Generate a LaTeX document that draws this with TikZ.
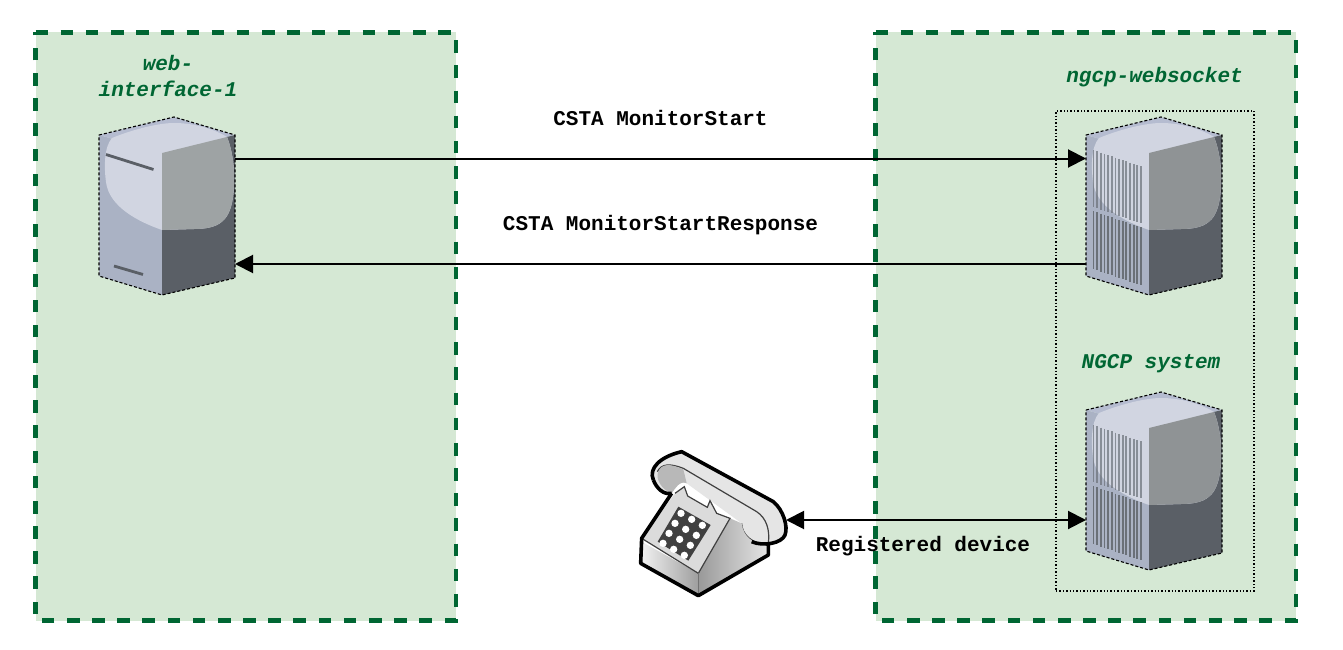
\documentclass[tikz,border=0pt]{standalone}
\usepackage{fontspec}
\setmonofont{Liberation Mono}
\usetikzlibrary{arrows.meta}
\definecolor{panelfill}{HTML}{D5E8D4}
\definecolor{paneledge}{HTML}{006633}
\definecolor{sideface}{HTML}{AAB2C4}
\definecolor{topface}{HTML}{B5BCD0}
\definecolor{darkface}{HTML}{5A5F66}
\definecolor{glossface}{HTML}{D1D5E1}
\definecolor{glossweb}{HTML}{9EA3A4}
\definecolor{glossngcp}{HTML}{8F9395}
\definecolor{ventbar}{HTML}{6A7078}
\tikzset{
    panel/.style={fill=panelfill, minimum width=420.2pt, minimum height=588pt, inner sep=0pt, outer sep=0pt},
    panelline/.style={draw=paneledge, line width=4.3pt, dash pattern=on 12.6pt off 12.57pt},
    zonebox/.style={draw, line width=1.4pt, dotted, minimum width=198pt, minimum height=480pt, inner sep=0pt},
    towerbox/.style={minimum width=136pt, minimum height=178pt, inner sep=0pt, outer sep=0pt},
    phonebox/.style={minimum width=146pt, minimum height=156pt, inner sep=0pt, outer sep=0pt},
    zonelabel/.style={text=paneledge, font=\fontsize{21}{26}\selectfont\ttfamily\bfseries\itshape, align=center},
    msglabel/.style={font=\fontsize{21}{26}\selectfont\ttfamily\bfseries},
    flow/.style={line width=2pt, -{Triangle[length=18pt, width=18pt]}},
    flowboth/.style={line width=2pt, {Triangle[length=18pt, width=18pt]}-{Triangle[length=18pt, width=18pt]}},
    pics/tower/.style={code={
        \fill[sideface] (0,18) -- (63,36) -- (63,178) -- (0,159) -- cycle;
        \fill[topface] (0,18) -- (75,0) -- (136,18) -- (63,36) -- cycle;
        \fill[darkface] (63,36) -- (136,18) -- (136,161) -- (63,178) -- cycle;
        \fill[glossface] (13,21) .. controls (35,12) and (60,6) .. (75,6)
            .. controls (95,6) and (115,12) .. (128,20)
            .. controls (134,35) and (136,55) .. (135,70)
            .. controls (133,100) and (125,112) .. (95,112)
            -- (63,113) .. controls (40,105) and (10,90) .. (7,65)
            .. controls (5,50) and (5,30) .. (13,21) -- cycle;
        \begin{scope}
            \clip (63,36) -- (136,18) -- (136,161) -- (63,178) -- cycle;
            \fill[#1] (13,21) .. controls (35,12) and (60,6) .. (75,6)
                .. controls (95,6) and (115,12) .. (128,20)
                .. controls (134,35) and (136,55) .. (135,70)
                .. controls (133,100) and (125,112) .. (95,112)
                -- (63,113) -- (63,0) -- cycle;
        \end{scope}
        \draw[line width=1.1pt, densely dashed] (0,18) -- (75,0) -- (136,18) -- (136,161) -- (63,178) -- (0,159) -- cycle;
    }},
    pics/slots/.style={code={
        \draw[line width=2.8pt, darkface] (7,37.5) -- (54.5,52.5);
        \draw[line width=2.8pt, darkface] (15,149) -- (44,157.5);
    }},
    pics/vents/.style={code={
        \foreach \i in {0,...,13} {
            \pgfmathsetmacro{\vx}{7.5+\i*3.65}
            \pgfmathsetmacro{\vy}{33+\i*1.25}
            \draw[line width=1.8pt, ventbar, opacity=0.7] (\vx,\vy) -- (\vx,\vy+57);
            \draw[line width=1.8pt, ventbar] (\vx,\vy+61) -- (\vx,\vy+119);
        }
    }},
}
\begin{document}
\begin{tikzpicture}[x=1pt, y=-1pt]
    \useasboundingbox (0,0) rectangle (1343,650);

    %zones
    \node[panel] (webzone) at (245.6,326.5) {};
    \node[panel] (ngcpzone) at (1085.6,326.5) {};
    \draw[panelline] (webzone.north west) -- (webzone.north east) -- (webzone.south east) -- (webzone.south west) -- cycle;
    \draw[panelline] (ngcpzone.north west) -- (ngcpzone.north east) -- (ngcpzone.south east) -- (ngcpzone.south west) -- cycle;
    \node[zonebox] (ngcpbox) at (1155,351) {};

    %servers
    \pic at (99,117) {tower={glossweb}};
    \pic at (99,117) {slots};
    \pic at (1086,117) {tower={glossngcp}};
    \pic at (1086,117) {vents};
    \pic at (1086,392) {tower={glossngcp}};
    \pic at (1086,392) {vents};
    \node[towerbox] (web) at (167,206) {};
    \node[towerbox] (websocket) at (1154,206) {};
    \node[towerbox] (system) at (1154,481) {};

    %phone
    \begin{scope}[shift={(620,430)}, scale=1/3]
        \fill[white!90!black] (100,150) .. controls (85,115) and (120,80) .. (185,65)
            -- (460,215) .. controls (490,240) and (505,290) .. (495,315)
            .. controls (485,340) and (430,350) .. (395,335)
            .. controls (375,325) and (365,300) .. (365,280) -- (200,160)
            .. controls (180,150) and (165,175) .. (155,190)
            .. controls (130,195) and (110,175) .. (100,150) -- cycle;
        \draw[line width=1.2pt, black!75] (112,125) .. controls (125,100) and (150,100) .. (190,115)
            -- (410,245) .. controls (440,265) and (450,300) .. (445,340);
        \fill[white!72!black] (115,125) .. controls (105,145) and (125,180) .. (155,190)
            .. controls (165,175) and (180,150) .. (200,160) -- (190,118) .. controls (150,100) and (125,100) .. (115,125) -- cycle;
        \draw[line width=1.2pt, black!75] (365,280) .. controls (365,310) and (395,345) .. (445,342);
        % body
        \shade[left color=white!95!black, right color=white!62!black] (65,335) -- (62,400) -- (235,497) -- (235,430) -- cycle;
        \shade[left color=white!60!black, right color=white!90!black] (235,430) -- (235,497) -- (445,375) -- (445,342)
            .. controls (400,345) and (370,320) .. (365,280) -- (330,265) -- cycle;
        \fill[white!86!black] (65,325) -- (165,190) -- (193,170) -- (203,198) -- (262,232) -- (270,212) -- (290,250) -- (330,265) -- (235,430) -- cycle;
        \draw[line width=1.2pt, black!75] (165,190) -- (193,170) -- (203,198) -- (262,232) -- (270,212) -- (290,250) -- (330,265) -- (235,430) -- (65,325);
        \draw[line width=1pt, black!55] (235,430) -- (235,497);
        % keypad
        \fill[black!75] (175,230) -- (272,285) -- (205,392) -- (113,335) -- cycle;
        \foreach \r in {0,...,3} {
            \foreach \c in {0,...,2} {
                \fill[white] ({183+\c*32-\r*18},{250+\c*18+\r*30}) circle [radius=11];
            }
        }
        % outlines
        \draw[line width=3.6pt, line join=round] (100,150) .. controls (85,115) and (120,80) .. (185,65)
            -- (460,215) .. controls (490,240) and (505,290) .. (495,315)
            .. controls (485,340) and (430,350) .. (395,335);
        \draw[line width=3.6pt, line join=round] (100,150) .. controls (110,175) and (130,195) .. (155,190);
        \draw[line width=3.6pt, line join=round] (155,190) -- (65,325) -- (62,400) -- (235,497) -- (445,375) -- (445,342);
    \end{scope}
    \node[phonebox] (phone) at (713,520) {};

    %labels
    \node[zonelabel] (weblabel) at (168,76) {web-\\interface-1};
    \node[zonelabel] (socketlabel) at (1154.5,77) {ngcp-websocket};
    \node[zonelabel] (systemlabel) at (1151,364) {NGCP system};
    \node[msglabel] (startlabel) at (660.5,118) {CSTA MonitorStart};
    \node[msglabel] (responselabel) at (660.5,225) {CSTA MonitorStartResponse};
    \node[msglabel] (devicelabel) at (923,546) {Registered device};

    %messages
    \draw[flow] ([yshift=47.5pt]web.east) -- ([yshift=47.5pt]websocket.west);
    \draw[flow] ([yshift=-58pt]websocket.west) -- ([yshift=-58pt]web.east);
    \draw[flowboth] (phone.east) -- ([yshift=-39pt]system.west);
\end{tikzpicture}
\end{document}
